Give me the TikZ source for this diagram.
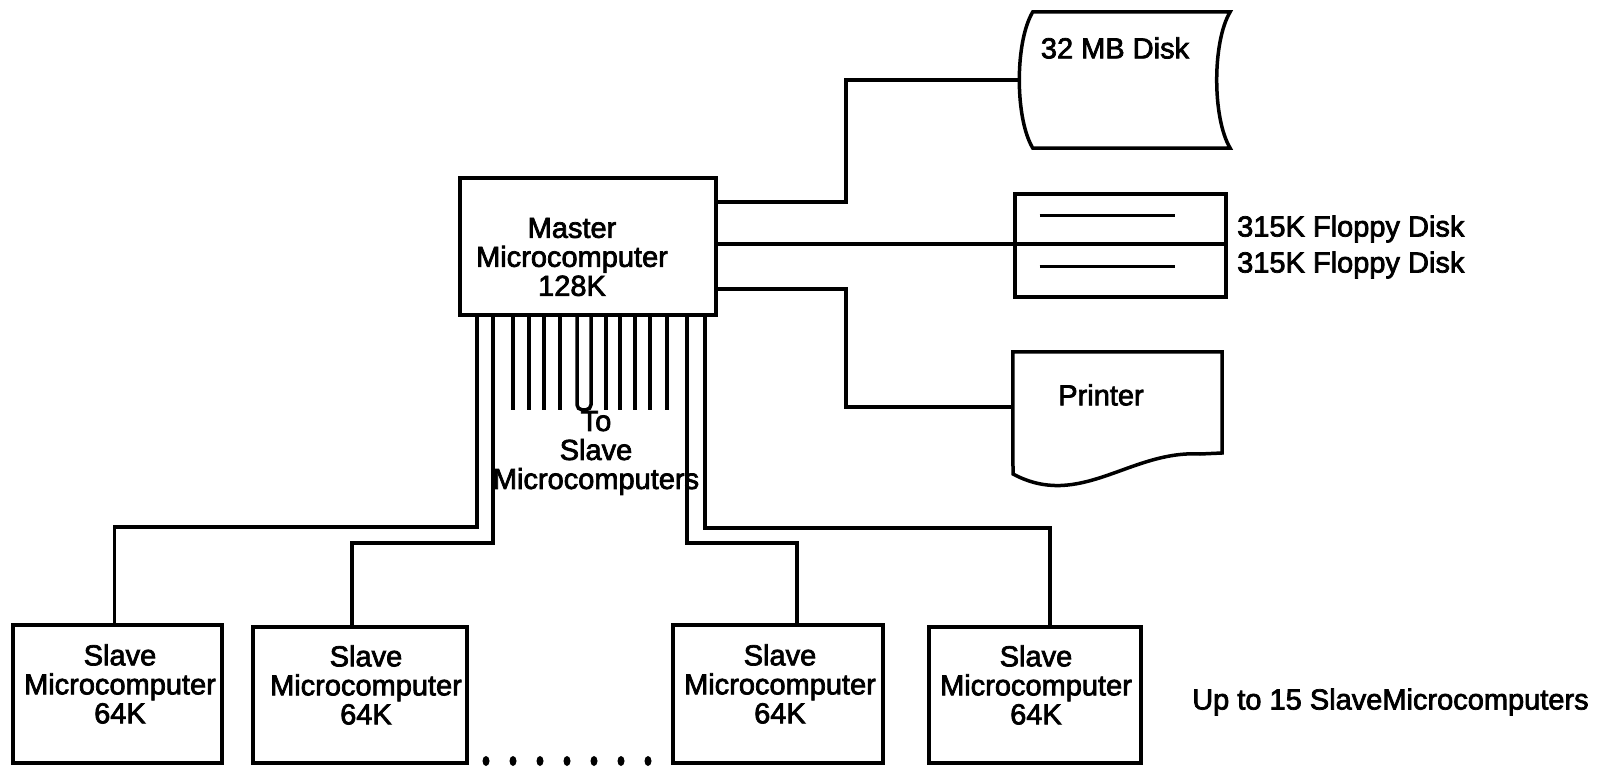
\documentclass[tikz,border=0pt]{standalone}
\usepackage{fontspec}
\setmainfont[FakeBold=2.5]{Liberation Sans}
\begin{document}
\begin{tikzpicture}[x=1pt,y=-1pt,
  wire/.style={line width=3.5pt},
  box/.style={draw,line width=3.5pt,inner sep=0pt},
  frame/.style={inner sep=0pt},
  lbl/.style={inner sep=0pt,align=center,font=\fontsize{29}{29}\selectfont}]
\useasboundingbox (0,0) rectangle (1598,767);
\fill[white] (0,0) rectangle (1598,767);

% master
\node[box,minimum width=256pt,minimum height=137pt] (master) at (588,246.5) {};
\node[lbl] (mastertext) at (572,257) {Master\\Microcomputer\\128K};

% 32 MB disk
\node[frame,minimum width=197pt,minimum height=136pt] (disk) at (1131.5,80) {};
\draw[wire] (disk.north west) -- (disk.north east)
  .. controls ([shift={(-18pt,-30pt)}]disk.north east) and ([shift={(-18pt,30pt)}]disk.south east) .. (disk.south east)
  -- (disk.south west)
  .. controls ([shift={(-18pt,30pt)}]disk.south west) and ([shift={(-18pt,-30pt)}]disk.north west) .. cycle;
\node[lbl] (disktext) at (1115,48) {32 MB Disk};

% floppy disks
\node[box,minimum width=211pt,minimum height=103pt] (floppy) at (1120.5,245.5) {};
\draw[wire] ([shift={(-81pt,30pt)}]floppy.center) -- ([shift={(54pt,30pt)}]floppy.center);
\draw[wire] ([shift={(-81pt,-21pt)}]floppy.center) -- ([shift={(54pt,-21pt)}]floppy.center);
\node[lbl,anchor=west] (fl1) at (1237,229) {315K Floppy Disk};
\node[lbl,anchor=west] (fl2) at (1237,265) {315K Floppy Disk};

% printer
\node[frame,minimum width=209pt,minimum height=110pt] (printer) at (1117.5,407) {};
\draw[wire] (printer.north west) -- (printer.north east) -- (1222,453) -- (1200,454)
  .. controls (1130,450) and (1080,510) .. (1013,474) -- cycle;
\node[lbl] (printertext) at (1101,395) {Printer};

% master to peripherals
\draw[wire] ([yshift=44.5pt]master.east) -- ++(128,0) |- ([xshift=-13.5pt]disk.west);
\draw[wire] ([yshift=2.5pt]master.east) -- ([yshift=2.5pt]master.east -| floppy.east);
\draw[wire] ([yshift=-42.5pt]master.east) -- ++(128,0) |- (printer.west);

% short lines to slave microcomputers
\foreach \dx in {-75,-59,-44,-28,18,32,47,62,79}
  \draw[wire] ([xshift=\dx pt]master.south) -- ++(0,93);
\draw[wire,rounded corners=5pt] ([xshift=-11pt]master.south) -- ++(0,93) -- ++(14,0) -- ++(0,-93);
\node[lbl] (totext) at (596,453) {To\\Slave\\Microcomputers};

% slaves
\node[box,minimum width=209pt,minimum height=138pt] (s1) at (117.5,694) {};
\node[box,minimum width=214pt,minimum height=136pt] (s2) at (360,695) {};
\node[box,minimum width=210pt,minimum height=138pt] (s3) at (778,694) {};
\node[box,minimum width=212pt,minimum height=136pt] (s4) at (1035,695) {};
\node[lbl] (s1t) at (120,684) {Slave\\Microcomputer\\64K};
\node[lbl] (s2t) at (366,685) {Slave\\Microcomputer\\64K};
\node[lbl] (s3t) at (780,684) {Slave\\Microcomputer\\64K};
\node[lbl] (s4t) at (1036,685) {Slave\\Microcomputer\\64K};

\draw[wire] ([xshift=-111pt]master.south) -- ++(0,210) -| ([xshift=-3pt]s1.north);
\draw[wire] ([xshift=-95pt]master.south) -- ++(0,226) -| ([xshift=-8pt]s2.north);
\draw[wire] ([xshift=99pt]master.south) -- ++(0,226) -| ([xshift=19pt]s3.north);
\draw[wire] ([xshift=117pt]master.south) -- ++(0,211) -| ([xshift=15pt]s4.north);

\foreach \x in {486,513,540,567,594,621,648}
  \fill (\x,761) ellipse [x radius=3.5pt, y radius=5pt];

\node[lbl,anchor=west] (upto) at (1192,702) {Up to 15 SlaveMicrocomputers};
\end{tikzpicture}
\end{document}
